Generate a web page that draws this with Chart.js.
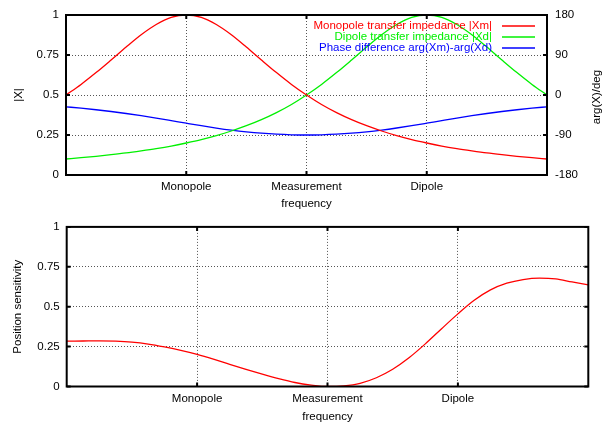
<!DOCTYPE html>
<html>
<head>
<meta charset="utf-8">
<script src="https://cdn.jsdelivr.net/npm/chart.js@4"></script>
<style>
  html, body { margin: 0; padding: 0; background: #fff; }
  .panel { position: absolute; left: 0; width: 610px; height: 213px; }
</style>
</head>
<body>
<div class="panel" style="top:0"><canvas id="topChart"></canvas></div>
<div class="panel" style="top:213px"><canvas id="bottomChart"></canvas></div>
<script>
// frequency axis, 0..4, the three named frequencies sit at 1, 2, 3
const freq = [0, 0.125, 0.25, 0.375, 0.5, 0.625, 0.75, 0.875, 1, 1.125, 1.25, 1.375, 1.5, 1.625, 1.75, 1.875,
  2, 2.125, 2.25, 2.375, 2.5, 2.625, 2.75, 2.875, 3, 3.125, 3.25, 3.375, 3.5, 3.625, 3.75, 3.875, 4];
const tickPos = [1, 2, 3];
const tickNames = ["Monopole", "Measurement", "Dipole"];

const monopole = [0.5, 0.566, 0.64, 0.719, 0.8, 0.877, 0.941, 0.985, 1, 0.985, 0.941, 0.877, 0.8, 0.719, 0.64, 0.566,
  0.5, 0.441, 0.39, 0.346, 0.308, 0.275, 0.246, 0.221, 0.2, 0.181, 0.165, 0.151, 0.138, 0.127, 0.117, 0.108, 0.1];
const dipole = [0.1, 0.108, 0.117, 0.127, 0.138, 0.151, 0.165, 0.181, 0.2, 0.221, 0.246, 0.275, 0.308, 0.346, 0.39, 0.441,
  0.5, 0.566, 0.64, 0.719, 0.8, 0.877, 0.941, 0.985, 1, 0.985, 0.941, 0.877, 0.8, 0.719, 0.64, 0.566, 0.5];
const phaseDiff = [-26.57, -29.63, -33.15, -37.14, -41.63, -46.61, -52.0, -57.67, -63.43, -69.05, -74.29, -78.95, -82.87, -85.98, -88.21, -89.55,
  -90, -89.55, -88.21, -85.98, -82.87, -78.95, -74.29, -69.05, -63.43, -57.67, -52.0, -46.61, -41.63, -37.14, -33.15, -29.63, -26.57];
const sensitivity = [0.284, 0.285, 0.286, 0.284, 0.278, 0.266, 0.248, 0.227, 0.202, 0.172, 0.139, 0.107, 0.077, 0.049, 0.025, 0.009,
  0, 0.004, 0.02, 0.055, 0.108, 0.18, 0.267, 0.362, 0.455, 0.54, 0.605, 0.647, 0.67, 0.679, 0.674, 0.655, 0.637];

const magTicks = [0, 0.25, 0.5, 0.75, 1];
const phaseTicks = [-180, -90, 0, 90, 180];

Chart.defaults.font.family = '"Liberation Sans", Arial, sans-serif';
Chart.defaults.font.size = 11.5;
Chart.defaults.color = "#000";

const pts = (ys) => ys.map((y, i) => ({ x: freq[i], y: y }));
const fixedTicks = (list) => (axis) => { axis.ticks = list.map((v) => ({ value: v })); };

function line(label, ys, color, axis) {
  return {
    label: label,
    data: pts(ys),
    borderColor: color,
    borderWidth: 1.3,
    pointRadius: 0,
    cubicInterpolationMode: "monotone",
    yAxisID: axis || "y",
  };
}

function freqAxis(h) {
  return {
    type: "linear",
    min: 0,
    max: 4,
    afterBuildTicks: fixedTicks(tickPos),
    afterFit: (axis) => { axis.height = h; },
    ticks: { callback: (v, i) => tickNames[i], padding: 5, maxRotation: 0, autoSkip: false },
    grid: { color: "#555", drawTicks: false },
    border: { display: false, dash: [1, 2] },
    title: { display: true, text: "frequency", padding: { top: 0, bottom: 2 } },
  };
}

function magAxis(w, title, pad) {
  return {
    min: 0,
    max: 1,
    afterBuildTicks: fixedTicks(magTicks),
    afterFit: (axis) => { axis.width = w; },
    ticks: { callback: (v, i) => String(magTicks[i]), padding: 7 },
    grid: { color: "#555", drawTicks: false },
    border: { display: false, dash: [1, 2] },
    title: { display: true, text: title, padding: { top: pad, bottom: 0 } },
  };
}

// gnuplot style border with inward tick marks
const framePlugin = {
  id: "frame",
  afterDraw(chart) {
    const { ctx, chartArea: a, scales } = chart;
    ctx.save();
    ctx.strokeStyle = "#000";
    ctx.lineWidth = 2;
    ctx.beginPath();
    scales.x.ticks.forEach((t) => {
      const px = scales.x.getPixelForValue(t.value);
      ctx.moveTo(px, a.bottom); ctx.lineTo(px, a.bottom - 4);
      ctx.moveTo(px, a.top); ctx.lineTo(px, a.top + 4);
    });
    scales.y.ticks.forEach((t) => {
      const py = scales.y.getPixelForValue(t.value);
      ctx.moveTo(a.left, py); ctx.lineTo(a.left + 4, py);
      ctx.moveTo(a.right, py); ctx.lineTo(a.right - 4, py);
    });
    ctx.stroke();
    ctx.strokeRect(a.left, a.top, a.right - a.left, a.bottom - a.top);
    ctx.restore();
  },
};

// legend inside the plot, text right aligned, sample line to the right
const innerLegend = {
  id: "innerLegend",
  afterDraw(chart) {
    const { ctx, chartArea: a } = chart;
    ctx.save();
    ctx.font = '11.5px "Liberation Sans", Arial, sans-serif';
    ctx.textAlign = "right";
    ctx.textBaseline = "middle";
    chart.data.datasets.forEach((ds, i) => {
      const y = a.top + 11 + i * 11;
      ctx.fillStyle = ds.borderColor;
      ctx.fillText(ds.label, a.right - 55, y);
      ctx.strokeStyle = ds.borderColor;
      ctx.lineWidth = ds.borderWidth;
      ctx.beginPath();
      ctx.moveTo(a.right - 45, y);
      ctx.lineTo(a.right - 12, y);
      ctx.stroke();
    });
    // right axis title, reads bottom to top like the left one
    ctx.translate(a.right + 50, (a.top + a.bottom) / 2 + 2);
    ctx.rotate(-Math.PI / 2);
    ctx.textAlign = "center";
    ctx.fillStyle = "#000";
    ctx.fillText("arg(X)/deg", 0, 0);
    ctx.restore();
  },
};

new Chart(document.getElementById("topChart"), {
  type: "line",
  data: {
    datasets: [
      line("Monopole transfer impedance |Xm|", monopole, "#ff0000"),
      line("Dipole transfer impedance |Xd|", dipole, "#00f000"),
      line("Phase difference arg(Xm)-arg(Xd)", phaseDiff, "#0000ff", "y2"),
    ],
  },
  options: {
    responsive: true,
    maintainAspectRatio: false,
    animation: false,
    layout: { padding: { top: 15, left: 0, right: 0, bottom: 0 } },
    plugins: { legend: { display: false }, tooltip: { enabled: false } },
    scales: {
      x: freqAxis(38),
      y: magAxis(66, "|X|", 12),
      y2: {
        position: "right",
        min: -180,
        max: 180,
        afterBuildTicks: fixedTicks(phaseTicks),
        afterFit: (axis) => { axis.width = 63; },
        ticks: { callback: (v, i) => String(phaseTicks[i]), padding: 8 },
        grid: { drawOnChartArea: false, drawTicks: false },
        border: { display: false },
      },
    },
  },
  plugins: [framePlugin, innerLegend],
});

new Chart(document.getElementById("bottomChart"), {
  type: "line",
  data: {
    datasets: [line("Position sensitivity", sensitivity, "#ff0000")],
  },
  options: {
    responsive: true,
    maintainAspectRatio: false,
    animation: false,
    layout: { padding: { top: 12, left: 0, right: 21.7, bottom: 0 } },
    plugins: { legend: { display: false }, tooltip: { enabled: false } },
    scales: {
      x: freqAxis(39.5),
      y: magAxis(66.7, "Position sensitivity", 10.5),
    },
  },
  plugins: [framePlugin],
});
</script>
</body>
</html>
